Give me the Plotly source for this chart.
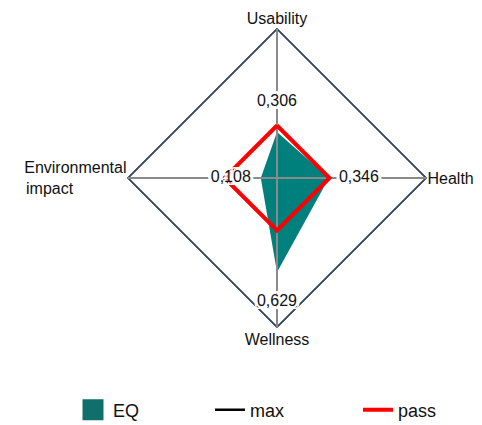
import plotly.graph_objects as go

# --- DATA ---
categories = ["Usability", "Health", "Wellness", "Environmental impact"]
tick_labels = ["Usability", "Health", "Wellness",
               "Environmental<br>impact" + "\u00a0" * 12]
eq_values = [0.306, 0.346, 0.629, 0.108]
max_values = [1.0, 1.0, 1.0, 1.0]
pass_values = [0.35, 0.35, 0.35, 0.35]

TEAL = "#00807c"
TEAL_LEGEND = "#106e6b"
NAVY = "#2c4466"
FONT = "Liberation Sans, Arial, sans-serif"


def closed(vals):
    return list(vals) + [vals[0]]


theta_closed = closed(categories)

# spokes from centre to max on every axis
spoke_r, spoke_t = [], []
for c, m in zip(categories, max_values):
    spoke_r += [0, m, None]
    spoke_t += [c, c, None]

fig = go.Figure()

# max: black legend entry, drawn over by the navy outline
fig.add_trace(go.Scatterpolar(r=closed(max_values), theta=theta_closed, mode="lines",
                              name="max", legendrank=2, legendwidth=103,
                              line=dict(color="black", width=2.5)))
fig.add_trace(go.Scatterpolar(r=closed(max_values), theta=theta_closed, mode="lines",
                              showlegend=False, hoverinfo="skip",
                              line=dict(color=NAVY, width=2.5)))
fig.add_trace(go.Scatterpolar(r=eq_values, theta=categories, fill="toself", mode="none",
                              name="EQ", fillcolor=TEAL, showlegend=False))
# square legend swatch for EQ
fig.add_trace(go.Scatterpolar(r=[None], theta=[None], mode="markers", name="EQ",
                              legendrank=1, legendwidth=92,
                              marker=dict(symbol="square", size=16, color=TEAL_LEGEND,
                                          line=dict(color=TEAL_LEGEND, width=6))))
fig.add_trace(go.Scatterpolar(r=spoke_r, theta=spoke_t, mode="lines", showlegend=False,
                              hoverinfo="skip", connectgaps=False,
                              line=dict(color="#8a8a8a", width=2)))
fig.add_trace(go.Scatterpolar(r=closed(pass_values), theta=theta_closed, mode="lines",
                              name="pass", legendrank=3, legendwidth=60,
                              line=dict(color="#ff0000", width=4)))

# value labels, pushed a bit outwards from the EQ points
halo = ", ".join(f"{dx}px {dy}px 0 #fff" for dx in (-3, 0, 3) for dy in (-3, 0, 3))
fig.add_trace(go.Scatterpolar(
    r=[v + 0.2 for v in eq_values], theta=categories, mode="text",
    text=[f"{v:.3f}".replace(".", ",") for v in eq_values],
    textfont=dict(family=FONT, size=16, color="#111", shadow=halo),
    showlegend=False, hoverinfo="skip"))

fig.update_layout(
    width=482, height=425,
    margin=dict(l=0, r=0, t=0, b=0),
    paper_bgcolor="white", plot_bgcolor="white",
    font=dict(family=FONT, size=16, color="#111"),
    polar=dict(
        domain=dict(x=[119 / 482, 419 / 482], y=[1 - 320 / 425, 1 - 20 / 425]),
        gridshape="linear",
        bgcolor="rgba(0,0,0,0)",
        radialaxis=dict(range=[0, 1], visible=False, showgrid=False, showline=False),
        angularaxis=dict(direction="clockwise", rotation=90, showgrid=False, showline=False,
                         ticks="", tickmode="array", tickvals=categories, ticktext=tick_labels,
                         tickfont=dict(family=FONT, size=16, color="#111")),
    ),
    legend=dict(orientation="h", x=65 / 482, xanchor="left", y=0.054, yanchor="middle",
                font=dict(family=FONT, size=18, color="#111")),
    showlegend=True,
)

fig.write_html("out.html")
